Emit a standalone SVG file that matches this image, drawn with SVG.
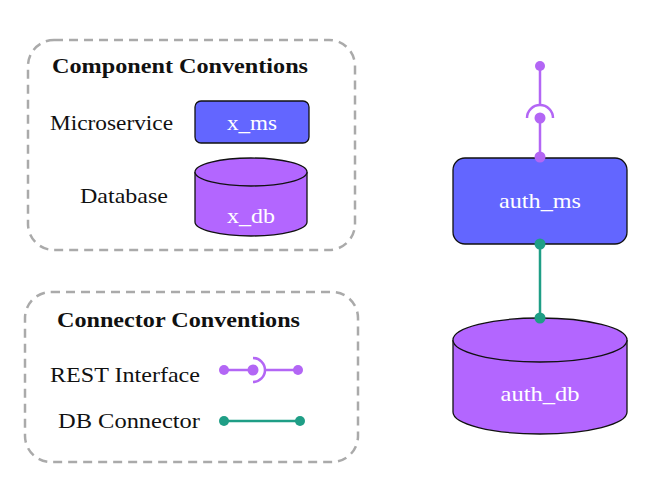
<svg xmlns="http://www.w3.org/2000/svg" width="660" height="492" viewBox="0 0 660 492">
<style>
.title{font-size:20px;font-weight:bold;fill:#111;}
.lbl{font-size:21px;fill:#111;}
.wt{font-size:21px;fill:#fff;text-anchor:middle;}
.legend{fill:none;stroke:#aaaaaa;stroke-width:2.5;stroke-dasharray:9 6;}
.ms{fill:#6366ff;stroke:#111;stroke-width:1.3;}
.db{fill:#b366ff;stroke:#111;stroke-width:1.3;}
.rest{stroke:#b366f5;stroke-width:2.5;fill:none;}
.restd{fill:#b366f5;}
.dbc{stroke:#1f9e86;stroke-width:2.5;fill:none;}
.dbd{fill:#1f9e86;}
</style>
<g font-family="'Liberation Serif', 'Times New Roman', serif">
<g id="component-legend">
<rect class="legend" x="28" y="40" width="327" height="210" rx="26"/>
<text class="title" x="52" y="73" textLength="256" lengthAdjust="spacingAndGlyphs">Component Conventions</text>
<text class="lbl" x="50" y="130" textLength="123" lengthAdjust="spacingAndGlyphs">Microservice</text>
<rect class="ms" x="195" y="101" width="114" height="42" rx="6"/>
<text class="wt" x="252" y="130" textLength="50" lengthAdjust="spacingAndGlyphs">x_ms</text>
<text class="lbl" x="80" y="203" textLength="88" lengthAdjust="spacingAndGlyphs">Database</text>
<path class="db" d="M195,172 L195,222 A56,14 0 0 0 307,222 L307,172 A56,14 0 0 0 195,172 Z"/>
<path class="db" d="M195,172 A56,14 0 0 0 307,172"/>
<text class="wt" x="251" y="223" textLength="48" lengthAdjust="spacingAndGlyphs">x_db</text>
</g>
<g id="connector-legend">
<rect class="legend" x="25" y="292" width="333" height="170" rx="26"/>
<text class="title" x="57" y="327" textLength="243" lengthAdjust="spacingAndGlyphs">Connector Conventions</text>
<text class="lbl" x="50" y="382" textLength="150" lengthAdjust="spacingAndGlyphs">REST Interface</text>
<text class="lbl" x="58" y="428" textLength="142" lengthAdjust="spacingAndGlyphs">DB Connector</text>
</g>
<g id="connectors">
<line class="rest" x1="224" y1="370" x2="253" y2="370"/>
<path class="rest" d="M253,358 A12,12 0 0 1 253,382"/>
<line class="rest" x1="265" y1="370" x2="298" y2="370"/>
<circle class="restd" cx="224" cy="370" r="5"/>
<circle class="restd" cx="253" cy="370" r="5.5"/>
<circle class="restd" cx="298" cy="370" r="5"/>
<line class="dbc" x1="224" y1="421" x2="300" y2="421"/>
<circle class="dbd" cx="224" cy="421" r="5"/>
<circle class="dbd" cx="300" cy="421" r="5"/>
<line class="rest" x1="540" y1="66" x2="540" y2="106"/>
<path class="rest" d="M527,118 A13,13 0 0 1 553,118"/>
<line class="rest" x1="540" y1="118" x2="540" y2="157"/>
<circle class="restd" cx="540" cy="66" r="5"/>
<circle class="restd" cx="540" cy="118" r="5.5"/>
<line class="dbc" x1="540" y1="244" x2="540" y2="318"/>
</g>
<g id="auth_ms">
<rect class="ms" x="453" y="158" width="174" height="86" rx="12"/>
<text class="wt" x="540" y="208" textLength="82" lengthAdjust="spacingAndGlyphs">auth_ms</text>
</g>
<g id="auth_db">
<path class="db" d="M453,340 L453,412 A87,22 0 0 0 627,412 L627,340 A87,22 0 0 0 453,340 Z"/>
<path class="db" d="M453,340 A87,22 0 0 0 627,340"/>
<text class="wt" x="540" y="401" textLength="79" lengthAdjust="spacingAndGlyphs">auth_db</text>
</g>
<g id="connector-dots">
<circle class="restd" cx="540" cy="157" r="5.5"/>
<circle class="dbd" cx="540" cy="244" r="5.5"/>
<circle class="dbd" cx="540" cy="318" r="5.5"/>
</g>
</g>
</svg>
